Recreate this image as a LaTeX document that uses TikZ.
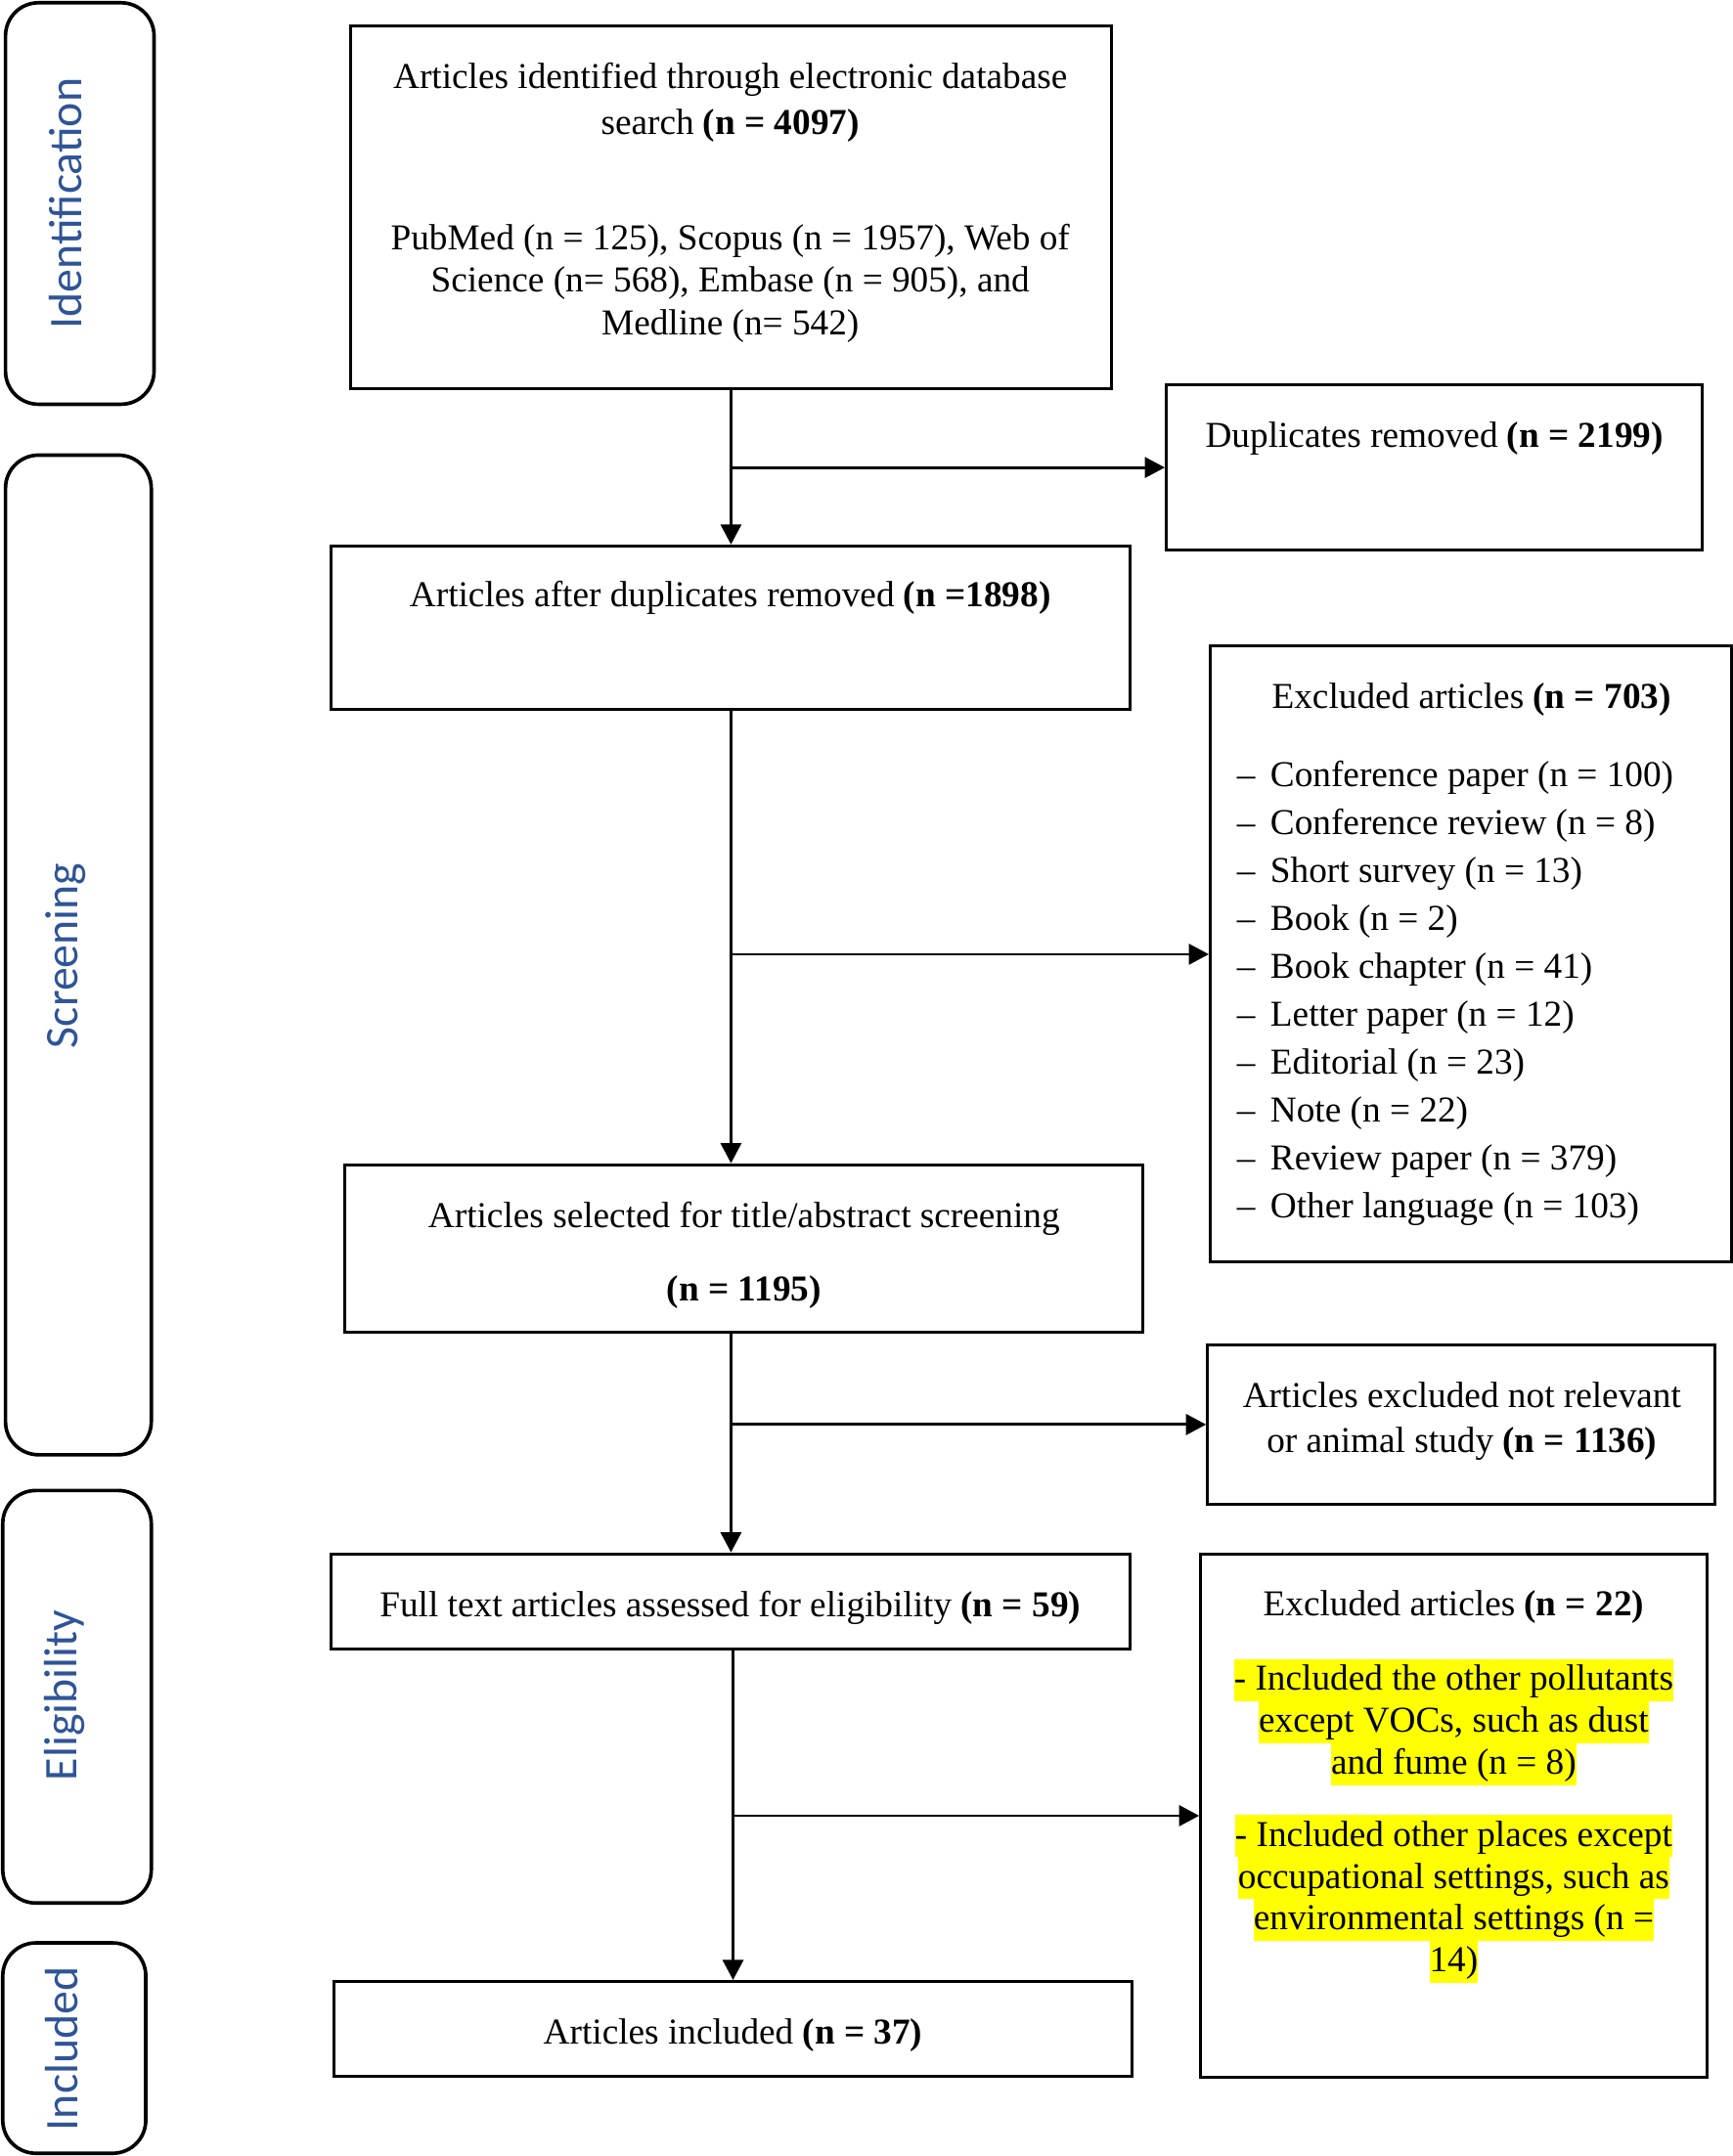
\documentclass[tikz,border=0pt]{standalone}
\usepackage{fontspec}
\setmainfont{Liberation Serif}
\newfontfamily\lblfont{Carlito}
\usetikzlibrary{arrows.meta,fit}
\definecolor{lblblue}{RGB}{47,84,151}
\definecolor{hlyellow}{RGB}{255,255,0}
\newcommand{\hlline}[1]{{\setlength{\fboxsep}{0pt}\colorbox{hlyellow}{\rule[-3.9pt]{0pt}{15.25pt}#1}}}
\begin{document}
\begin{tikzpicture}[x=0.5pt,y=-0.5pt,
  box/.style={draw=black,line width=1.05pt,inner sep=0pt},
  side/.style={draw=black,line width=1.3pt,rounded corners=12pt,inner sep=0pt},
  lbl/.style={font=\lblfont\fontsize{17}{20}\selectfont,text=lblblue,rotate=90,inner sep=0pt},
  txt/.style={font=\fontsize{13.25}{16.5}\selectfont,align=center,inner sep=0pt},
  arr/.style={line width=1pt,-{Triangle[length=7.3pt,width=7.5pt]}}]
\useasboundingbox (0,0) rectangle (1260,1568);
% side boxes
\node[side,fit={(4,2) (112,294)}] (sid) {};
\node[side,fit={(4,331) (110,1058)}] (sscr) {};
\node[side,fit={(2,1084) (110,1384)}] (seli) {};
\node[side,fit={(2,1413) (106,1566)}] (sinc) {};
\node[lbl] (lid) at (48,148) {Identification};
\node[lbl] (lscr) at (48,695) {Screening};
\node[lbl] (leli) at (47,1233) {Eligibility};
\node[lbl] (linc) at (45,1490) {Included};
% main boxes
\node[box,fit={(255,19) (808,283)}] (A) {};
\node[box,fit={(848,280) (1238,400)}] (B) {};
\node[box,fit={(241,397) (822,516)}] (C) {};
\node[box,fit={(880,470) (1259,918)}] (D) {};
\node[box,fit={(251,847) (831,969)}] (E) {};
\node[box,fit={(878,978) (1247,1094)}] (F) {};
\node[box,fit={(241,1130) (822,1199)}] (G) {};
\node[box,fit={(873,1130) (1241,1511)}] (H) {};
\node[box,fit={(243,1441) (823,1510)}] (I) {};
% texts
\node[txt] (At1) at (531,74.5) {Articles identified through electronic database\\search \textbf{(n = 4097)}};
\node[txt,font=\fontsize{13.25}{15.5}\selectfont] (At2) at (531,206) {PubMed (n = 125), Scopus (n = 1957), Web of\\Science (n= 568), Embase (n = 905), and\\Medline (n= 542)};
\node[txt] (Bt) at (1043,319) {Duplicates removed \textbf{(n = 2199)}};
\node[txt] (Ct) at (531,435) {Articles after duplicates removed \textbf{(n =1898)}};
\node[txt] (Dt) at (1070,509) {Excluded articles \textbf{(n = 703)}};
\node[txt,align=left,anchor=west,font=\fontsize{13.25}{17.4}\selectfont] (Dl) at (899,722.5) {–\ \,Conference paper (n = 100)\\–\ \,Conference review (n = 8)\\–\ \,Short survey (n = 13)\\–\ \,Book (n = 2)\\–\ \,Book chapter (n = 41)\\–\ \,Letter paper (n = 12)\\–\ \,Editorial (n = 23)\\–\ \,Note (n = 22)\\–\ \,Review paper (n = 379)\\–\ \,Other language (n = 103)};
\node[txt] (Et1) at (541,886) {Articles selected for title/abstract screening};
\node[txt] (Et2) at (541,940) {\textbf{(n = 1195)}};
\node[txt] (Ft) at (1063,1033.5) {Articles excluded not relevant\\or animal study \textbf{(n = 1136)}};
\node[txt] (Gt) at (531,1169) {Full text articles assessed for eligibility \textbf{(n = 59)}};
\node[txt] (Ht) at (1057,1169) {Excluded articles \textbf{(n = 22)}};
\node[txt,font=\fontsize{13.25}{15.25}\selectfont] (Hh1) at (1057,1252.5) {\hlline{- Included the other pollutants}\\\hlline{except VOCs, such as dust}\\\hlline{and fume (n = 8)}};
\node[txt,font=\fontsize{13.25}{15.25}\selectfont] (Hh2) at (1057,1381) {\hlline{- Included other places except}\\\hlline{occupational settings, such as}\\\hlline{environmental settings (n =}\\\hlline{14)}};
\node[txt] (It) at (533,1480) {Articles included \textbf{(n = 37)}};
% connectors
\draw[arr] (A.south) -- (A.south |- C.north);
\draw[arr] (A.south |- B.west) -- (B.west);
\draw[arr] (C.south) -- (C.south |- E.north);
\draw[arr] (C.south |- D.west) -- (D.west);
\draw[arr] (G.north |- E.south) -- (G.north);
\draw[arr] (G.north |- F.west) -- (F.west);
\draw[arr] (I.north |- G.south) -- (I.north);
\draw[arr] (I.north |- H.west) -- (H.west);
\end{tikzpicture}
\end{document}
